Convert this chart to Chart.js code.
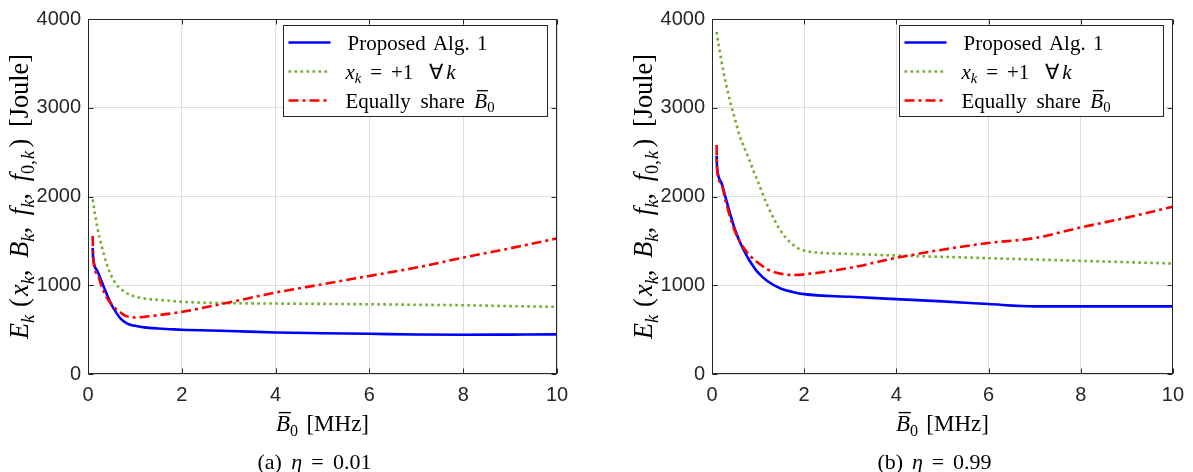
<!DOCTYPE html>
<html>
<head>
<meta charset="utf-8">
<script src="https://cdn.jsdelivr.net/npm/chart.js@4.4.1/dist/chart.umd.min.js"></script>
<style>
html, body { margin: 0; padding: 0; background: #fff; }
#wrap { position: relative; width: 1193px; height: 472px; }
#wrap canvas { position: absolute; top: 0; }
</style>
</head>
<body>
<div id="wrap">
  <canvas id="chartA" width="600" height="472" style="left:0;width:600px;height:472px"></canvas>
  <canvas id="chartB" width="593" height="472" style="left:600px;width:593px;height:472px"></canvas>
</div>
<script>
var xVals = [0.1, 0.11, 0.2, 0.3, 0.4, 0.5, 0.6, 0.7, 0.8, 0.9, 1.0, 1.2, 1.5, 1.75, 2, 3, 4, 5, 6, 7, 8, 9, 10];

// (a) eta = 0.01
var proposedA = [1420, 1310, 1160, 1030, 900, 780, 693, 620, 580, 555, 543, 525, 512, 505, 498, 485, 468, 460, 453, 445, 442, 444, 446];
var allOnesA  = [1966, 1930, 1648, 1423, 1236, 1105, 1011, 960, 918, 892, 873, 850, 835, 825, 813, 798, 794, 790, 786, 780, 775, 765, 757];
var equalA    = [1554, 1310, 1124, 974, 861, 787, 730, 690, 655, 643, 637, 644, 663, 680, 700, 805, 918, 1011, 1105, 1199, 1311, 1416, 1528];

// (b) eta = 0.99
var proposedB = [2460, 2330, 2160, 1978, 1792, 1625, 1494, 1385, 1290, 1210, 1141, 1048, 960, 925, 900, 870, 844, 818, 788, 762, 762, 762, 762];
var allOnesB  = [3855, 3820, 3539, 3279, 3056, 2870, 2684, 2550, 2424, 2290, 2164, 1903, 1605, 1460, 1390, 1353, 1335, 1320, 1305, 1290, 1275, 1260, 1245];
var equalB    = [2580, 2312, 2145, 1940, 1755, 1606, 1494, 1415, 1346, 1295, 1253, 1178, 1130, 1116, 1123, 1197, 1309, 1401, 1476, 1532, 1651, 1762, 1885];

var xTicks = [0, 2, 4, 6, 8, 10];
var yTicks = [0, 1000, 2000, 3000, 4000];

var SERIF = '"Liberation Serif", "Times New Roman", serif';
var SANS = '"Liberation Sans", Arial, sans-serif';

function pts(ys) {
  return xVals.map(function (x, i) { return { x: x, y: ys[i] }; });
}

// rich text: runs of {t, i: italic, s: subscript, o: overline} or {g: gap in em}
function runFont(r, size) {
  var s = r.s ? size * 0.7 : size;
  return (r.i ? 'italic ' : '') + s + 'px ' + SERIF;
}
function measureRuns(ctx, runs, size) {
  var w = 0, gaps = 0;
  runs.forEach(function (r) {
    if (r.g !== undefined) { r.w = r.g * size; gaps++; }
    else { ctx.font = runFont(r, size); r.w = ctx.measureText(r.t).width; }
    w += r.w;
  });
  return { w: w, gaps: gaps };
}
// mode 'size': font size is scaled so the whole run fits target; otherwise gaps stretch
function drawRuns(ctx, runs, x, y, size, target, align, mode) {
  var m = measureRuns(ctx, runs, size);
  if (mode === 'size' && target) {
    size = size * target / m.w;
    m = measureRuns(ctx, runs, size);
  }
  var extra = (target && m.gaps && mode !== 'size') ? (target - m.w) / m.gaps : 0;
  var total = m.w + extra * m.gaps;
  var cx = align === 'left' ? x : x - total / 2;
  ctx.save();
  ctx.fillStyle = '#000';
  ctx.strokeStyle = '#000';
  ctx.textBaseline = 'alphabetic';
  ctx.textAlign = 'left';
  runs.forEach(function (r) {
    if (r.g !== undefined) { cx += r.w + extra; return; }
    ctx.font = runFont(r, size);
    ctx.fillText(r.t, cx, y + (r.s ? size * 0.22 : 0));
    if (r.o) {
      ctx.lineWidth = size * 0.06;
      ctx.beginPath();
      ctx.moveTo(cx + size * 0.12, y - size * 0.8);
      ctx.lineTo(cx + r.w + size * 0.04, y - size * 0.8);
      ctx.stroke();
    }
    cx += r.w;
  });
  ctx.restore();
}

var yTitle = [
  {t: 'E', i: true}, {t: 'k', i: true, s: true}, {g: 0.3}, {t: '('}, {g: 0.08},
  {t: 'x', i: true}, {t: 'k', i: true, s: true}, {t: ','}, {g: 0.45},
  {t: 'B', i: true}, {t: 'k', i: true, s: true}, {t: ','}, {g: 0.45},
  {t: 'f', i: true}, {t: 'k', i: true, s: true}, {t: ','}, {g: 0.45},
  {t: 'f', i: true}, {t: '0,', s: true}, {g: 0.05}, {t: 'k', i: true, s: true}, {g: 0.12}, {t: ')'}, {g: 0.45},
  {t: '[Joule]'}
];
var xTitle = [{t: 'B', i: true, o: true}, {t: '0', s: true}, {g: 0.3}, {t: '[MHz]'}];
var legendRows = [
  [{t: 'Proposed'}, {g: 0.25}, {t: 'Alg.'}, {g: 0.25}, {t: '1'}],
  [{t: 'x', i: true}, {t: 'k', i: true, s: true}, {g: 0.3}, {t: '='}, {g: 0.3}, {t: '+1'}, {g: 0.6}, {t: '\u2200'}, {g: 0.05}, {t: 'k', i: true}],
  [{t: 'Equally'}, {g: 0.25}, {t: 'share'}, {g: 0.25}, {t: 'B', i: true, o: true}, {t: '0', s: true}]
];
var legendWidths = [140, 110, 149];

var framePlugin = {
  id: 'frame',
  afterDraw: function (chart, args, opts) {
    var ctx = chart.ctx, ca = chart.chartArea;
    var xs = chart.scales.x, ys = chart.scales.y;
    ctx.save();
    // box and inward ticks
    ctx.strokeStyle = '#262626';
    ctx.lineWidth = 1;
    var l = Math.round(ca.left) + 0.5, r = Math.round(ca.right) - 0.5;
    var t = Math.round(ca.top) + 0.5, b = Math.round(ca.bottom) - 0.5;
    ctx.strokeRect(l, t, r - l, b - t);
    ctx.beginPath();
    xTicks.forEach(function (v) {
      var px = Math.round(xs.getPixelForValue(v)) + 0.5;
      ctx.moveTo(px, b); ctx.lineTo(px, b - 5);
      ctx.moveTo(px, t); ctx.lineTo(px, t + 5);
    });
    yTicks.forEach(function (v) {
      var py = Math.round(ys.getPixelForValue(v)) + 0.5;
      ctx.moveTo(l, py); ctx.lineTo(l + 5, py);
      ctx.moveTo(r, py); ctx.lineTo(r - 5, py);
    });
    ctx.stroke();

    // legend
    var bl = Math.round(ca.right) - 274 + 0.5, bt = Math.round(ca.top) + 6 + 0.5;
    ctx.fillStyle = '#fff';
    ctx.fillRect(bl, bt, 264, 91);
    ctx.strokeRect(bl, bt, 264, 91);
    chart.data.datasets.forEach(function (ds, i) {
      var yy = bt + 17 + 29 * i;
      ctx.save();
      ctx.strokeStyle = ds.borderColor;
      ctx.lineWidth = ds.borderWidth;
      ctx.setLineDash(ds.borderDash || []);
      ctx.beginPath();
      ctx.moveTo(bl + 5, yy);
      ctx.lineTo(bl + 47, yy);
      ctx.stroke();
      ctx.restore();
      drawRuns(ctx, legendRows[i], bl + (i === 0 ? 64 : 62), yy + 7, 21, legendWidths[i], 'left');
    });

    // axis titles and caption
    var mid = (ca.left + ca.right) / 2;
    drawRuns(ctx, xTitle, mid, 431, 23, 93);
    ctx.save();
    ctx.translate(ca.left - 60, (ca.top + ca.bottom) / 2);
    ctx.rotate(-Math.PI / 2);
    drawRuns(ctx, yTitle, 0, 0, 24, 285, 'center', 'size');
    ctx.restore();
    drawRuns(ctx, opts.caption, mid - 8, 469, 22, 114);
    ctx.restore();
  }
};

function tickText(v) { return String(v); }

function makeChart(id, blue, green, red, axisW, padRight, caption) {
  return new Chart(document.getElementById(id), {
    type: 'line',
    data: {
      datasets: [{
        label: 'Proposed Alg. 1',
        data: pts(blue),
        borderColor: '#0000ff',
        borderWidth: 2.6,
        order: 2
      }, {
        label: 'x_k = +1 for all k',
        data: pts(green),
        borderColor: '#77ac30',
        borderWidth: 2.6,
        borderDash: [2.6, 3.4],
        order: 1
      }, {
        label: 'Equally share B0',
        data: pts(red),
        borderColor: '#ff0000',
        borderWidth: 2.6,
        borderDash: [10, 4, 3, 4],
        order: 0
      }]
    },
    options: {
      responsive: false,
      animation: false,
      events: [],
      layout: { padding: { left: 0, right: padRight, top: 16, bottom: 0 } },
      elements: {
        point: { radius: 0 },
        line: { cubicInterpolationMode: 'monotone', fill: false }
      },
      scales: {
        x: {
          type: 'linear',
          min: 0, max: 10,
          afterBuildTicks: function (s) { s.ticks = xTicks.map(function (v) { return { value: v }; }); },
          afterFit: function (s) { s.height = 98; },
          grid: { color: '#dedede', drawTicks: false },
          border: { display: false },
          ticks: { padding: 9, color: '#262626', font: { family: SANS, size: 20 }, callback: tickText }
        },
        y: {
          type: 'linear',
          min: 0, max: 4000,
          afterBuildTicks: function (s) { s.ticks = yTicks.map(function (v) { return { value: v }; }); },
          afterFit: function (s) { s.width = axisW; },
          grid: { color: '#dedede', drawTicks: false },
          border: { display: false },
          ticks: { padding: 7, color: '#262626', font: { family: SANS, size: 20 }, callback: tickText }
        }
      },
      plugins: {
        legend: { display: false },
        tooltip: { enabled: false },
        frame: { caption: caption }
      }
    },
    plugins: [framePlugin]
  });
}

makeChart('chartA', proposedA, allOnesA, equalA, 88, 43,
  [{t: '(a)'}, {g: 0.3}, {t: '\u03b7', i: true}, {g: 0.3}, {t: '='}, {g: 0.3}, {t: '0.01'}]);
makeChart('chartB', proposedB, allOnesB, equalB, 112, 12,
  [{t: '(b)'}, {g: 0.3}, {t: '\u03b7', i: true}, {g: 0.3}, {t: '='}, {g: 0.3}, {t: '0.99'}]);
</script>
</body>
</html>
